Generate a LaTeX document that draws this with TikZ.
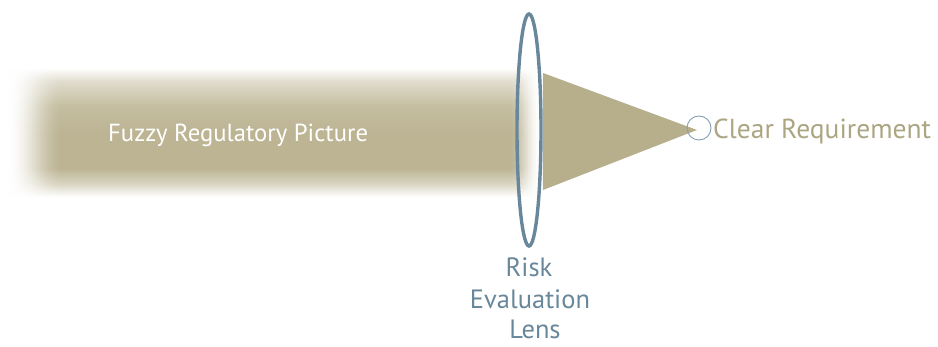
\documentclass[tikz,border=0pt]{standalone}
\usepackage{fontspec}
\setmainfont{PT Sans}
\usetikzlibrary{shapes.geometric}
\definecolor{tan}{RGB}{183,174,140}
\definecolor{bandtan}{RGB}{188,180,147}
\definecolor{lensblue}{RGB}{104,135,155}
\definecolor{labeltan}{RGB}{172,165,130}
% band body: white at the top and bottom edges, solid in the middle
\pgfdeclareverticalshading{bandv}{100bp}{%
  color(0bp)=(white); color(25bp)=(white);
  color(30bp)=(bandtan!55!white); color(36bp)=(bandtan);
  color(50bp)=(bandtan); color(60bp)=(bandtan!88!white);
  color(70bp)=(bandtan!45!white);
  color(75bp)=(white); color(100bp)=(white)}
\tikzset{
  lensring/.style={draw=lensblue, line width=3.4pt, ellipse, inner sep=0pt,
                   minimum width=24pt, minimum height=232pt},
  focusring/.style={draw=lensblue!80, line width=0.9pt, circle, inner sep=0pt,
                    minimum size=24pt},
  bandtext/.style={text=white, font=\fontsize{24.7}{28}\selectfont, anchor=base west, inner sep=0pt},
  lenstext/.style={text=lensblue, font=\fontsize{26.5}{30}\selectfont, anchor=base, inner sep=0pt},
  goaltext/.style={text=labeltan, font=\fontsize{27.5}{30}\selectfont, anchor=base west, inner sep=0pt}
}
\begin{document}
\begin{tikzpicture}[x=1pt,y=-1pt]
\useasboundingbox (0,0) rectangle (938,347);
% soft band: vertical shading, then white veils fading in at both ends
\shade[shading=bandv] (8,68) rectangle (542,197);
\foreach \i in {0,...,29}{
  \pgfmathsetmacro\veil{0.5+0.5*cos(180*\i/29)}
  \fill[white, opacity=\veil] ({6+2*\i},64) rectangle ({8.2+2*\i},201);
}
\foreach \i in {0,...,16}{
  \pgfmathsetmacro\veil{0.5-0.5*cos(180*\i/16)}
  \fill[white, opacity=\veil] ({508+2*\i},64) rectangle ({510.2+2*\i},201);
}
% converging beam behind the lens
\fill[tan] (543,73) -- (697,130) -- (543,190) -- cycle;
\node[bandtext] (fuzzy) at (108,142) {Fuzzy Regulatory Picture};
\node[lensring] (lens) at (529,130) {};
\node[focusring] (focus) at (699,128) {};
\node[goaltext] (goal) at (713,139) {Clear Requirement};
\node[lenstext] (lensrisk) at (529,277) {Risk};
\node[lenstext] (lenseval) at (530,309) {Evaluation};
\node[lenstext] (lensname) at (535,339) {Lens};
\end{tikzpicture}
\end{document}
